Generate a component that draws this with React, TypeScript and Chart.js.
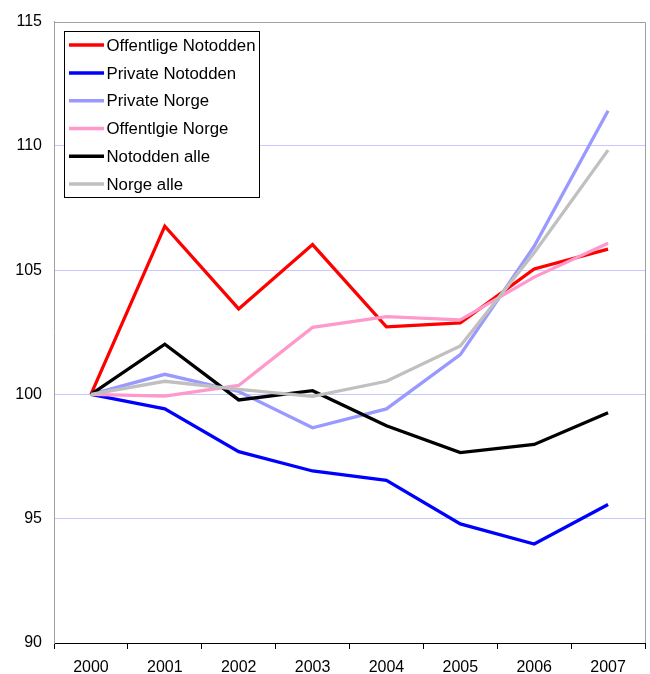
import React, { useEffect, useRef } from "react";
import { Chart, registerables } from "chart.js";

Chart.register(...registerables);

const years = ["2000", "2001", "2002", "2003", "2004", "2005", "2006", "2007"];
const offentligeNotodden = [100, 106.77, 103.44, 106.03, 102.72, 102.88, 105.05, 105.85];
const privateNotodden = [100, 99.42, 97.7, 96.92, 96.54, 94.79, 93.98, 95.57];
const privateNorge = [100, 100.81, 100.12, 98.66, 99.42, 101.6, 105.96, 111.41];
const offentligeNorge = [100, 99.93, 100.36, 102.7, 103.13, 103.0, 104.72, 106.08];
const notoddenAlle = [100, 102.02, 99.78, 100.15, 98.74, 97.66, 97.99, 99.26];
const norgeAlle = [100, 100.53, 100.2, 99.92, 100.53, 101.95, 105.7, 109.83];

const seriesNames = [
  "Offentlige Notodden",
  "Private Notodden",
  "Private Norge",
  "Offentlgie Norge",
  "Notodden alle",
  "Norge alle",
];
const seriesValues = [offentligeNotodden, privateNotodden, privateNorge, offentligeNorge, notoddenAlle, norgeAlle];
const seriesColors = ["#ff0000", "#0000ff", "#9999ff", "#ff99cc", "#000000", "#c0c0c0"];

const yMin = 90;
const yMax = 115;
const yStep = 5;

const FONT = "'Liberation Sans', Arial, sans-serif";

const frameAndLegend = {
  id: "frameAndLegend",
  afterDraw(chart: any) {
    const ctx = chart.ctx;
    const a = chart.chartArea;
    ctx.save();
    // top and right frame
    ctx.strokeStyle = "#a0a0a0";
    ctx.lineWidth = 1;
    ctx.beginPath();
    ctx.moveTo(Math.round(a.left) + 0.5, Math.round(a.top) + 0.5);
    ctx.lineTo(Math.round(a.right) + 0.5, Math.round(a.top) + 0.5);
    ctx.lineTo(Math.round(a.right) + 0.5, Math.round(a.bottom));
    ctx.stroke();

    // legend
    const lx = a.left + 10;
    const ly = a.top + 9;
    const lw = 195;
    const lh = 166;
    ctx.fillStyle = "#ffffff";
    ctx.fillRect(Math.round(lx) + 0.5, Math.round(ly) + 0.5, lw, lh);
    ctx.strokeStyle = "#000000";
    ctx.lineWidth = 1;
    ctx.strokeRect(Math.round(lx) + 0.5, Math.round(ly) + 0.5, lw, lh);
    ctx.font = `16.8px ${FONT}`;
    ctx.textBaseline = "middle";
    ctx.textAlign = "left";
    chart.data.datasets.forEach((ds: any, i: number) => {
      const y = ly + 14.5 + i * 27.8;
      ctx.strokeStyle = ds.borderColor;
      ctx.lineWidth = 3.5;
      ctx.lineCap = "butt";
      ctx.beginPath();
      ctx.moveTo(lx + 5, y);
      ctx.lineTo(lx + 40, y);
      ctx.stroke();
      ctx.fillStyle = "#000000";
      ctx.fillText(ds.label, lx + 42.5, y + 1);
    });
    ctx.restore();
  },
};

export default function App() {
  const ref = useRef<HTMLCanvasElement | null>(null);
  useEffect(() => {
    if (!ref.current) return;
    const n = seriesNames.length;
    const chart = new Chart(ref.current, {
      type: "line",
      data: {
        labels: years,
        datasets: seriesNames.map((name, i) => ({
          label: name,
          data: seriesValues[i],
          borderColor: seriesColors[i],
          backgroundColor: seriesColors[i],
          borderWidth: 3.3,
          pointRadius: 0,
          tension: 0,
          fill: false,
          order: n - 1 - i,
        })),
      },
      options: {
        responsive: false,
        animation: false,
        devicePixelRatio: 1,
        layout: { padding: { top: 19, right: 5, left: 0, bottom: 0 } },
        plugins: { legend: { display: false }, tooltip: { enabled: false } },
        scales: {
          x: {
            type: "category",
            offset: true,
            grid: {
              display: true,
              offset: true,
              drawOnChartArea: false,
              drawTicks: true,
              tickLength: 6,
              color: "#000000",
              lineWidth: 1,
            },
            border: { display: true, color: "#000000", width: 1 },
            ticks: {
              color: "#000000",
              font: { family: FONT, size: 16 },
              padding: 9,
              maxRotation: 0,
              autoSkip: false,
            },
            afterFit(scale: any) {
              scale.height = 31;
            },
          },
          y: {
            min: yMin,
            max: yMax,
            grid: {
              drawTicks: false,
              color: (c: any) => {
                const v = c.tick ? c.tick.value : null;
                if (v === yMin || v === yMax) return "rgba(0,0,0,0)";
                return "#c8c8ff";
              },
              lineWidth: 1,
            },
            border: { display: true, color: "#a0a0a0", width: 1 },
            ticks: {
              stepSize: yStep,
              color: "#000000",
              font: { family: FONT, size: 16 },
              padding: 12,
            },
            afterFit(scale: any) {
              scale.width = 54;
            },
          },
        },
      },
      plugins: [frameAndLegend],
    });
    return () => chart.destroy();
  }, []);
  return (
    <div style={{ position: "fixed", left: 0, top: 0, width: 650, height: 674, background: "#ffffff" }}>
      <canvas ref={ref} width={650} height={674} style={{ display: "block", width: 650, height: 674 }} />
    </div>
  );
}
